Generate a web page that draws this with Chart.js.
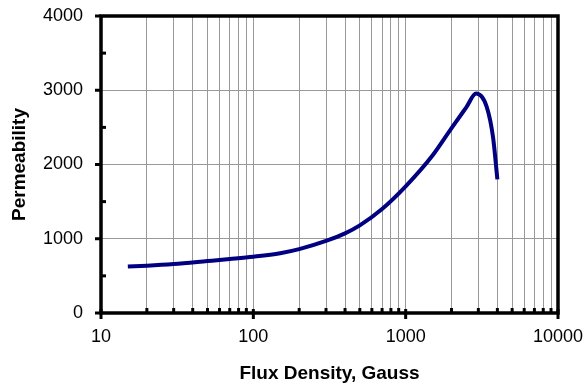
<!DOCTYPE html>
<html>
<head>
<meta charset="utf-8">
<script src="https://cdn.jsdelivr.net/npm/chart.js@4/dist/chart.umd.min.js"></script>
<style>
  html, body { margin: 0; padding: 0; background: #fff; }
  #wrap { width: 585px; height: 387px; position: relative; }
</style>
</head>
<body>
<div id="wrap"><canvas id="c"></canvas></div>
<script>
// ---- data ----
const fluxDensity = [15, 20, 30, 50, 70, 100, 150, 200, 300, 400, 500, 700, 1000, 1500, 2000, 2500, 2900, 3400, 3750, 4000];
const permeability = [625, 637, 660, 700, 727, 758, 805, 860, 970, 1073, 1180, 1400, 1705, 2120, 2490, 2770, 2955, 2780, 2360, 1800];

// ---- axis ticks ----
const xMajorTicks = [10, 100, 1000, 10000];
const xMinorTicks = [20, 30, 40, 50, 60, 70, 80, 90, 200, 300, 400, 500, 600, 700, 800, 900, 2000, 3000, 4000, 5000, 6000, 7000, 8000, 9000];
const yMajorTicks = [0, 1000, 2000, 3000, 4000];
const yMinorTicks = [500, 1500, 2500, 3500];
const xTitle = 'Flux Density, Gauss';
const yTitle = 'Permeability';

const FONT = "'Liberation Sans', Arial, Helvetica, sans-serif";

const framePlugin = {
  id: 'frame',
  afterDraw(chart) {
    const { ctx, chartArea: { left, right, top, bottom }, scales: { x, y } } = chart;
    ctx.save();
    ctx.strokeStyle = '#000';
    ctx.lineCap = 'butt';
    ctx.lineWidth = 3.5;
    ctx.strokeRect(left, top, right - left, bottom - top);
    ctx.lineWidth = 3;
    const seg = (x1, y1, x2, y2) => { ctx.beginPath(); ctx.moveTo(x1, y1); ctx.lineTo(x2, y2); ctx.stroke(); };
    yMajorTicks.forEach(v => { const py = y.getPixelForValue(v); seg(left - 6, py, left, py); });
    yMinorTicks.forEach(v => { const py = y.getPixelForValue(v); seg(left, py, left + 5, py); });
    xMajorTicks.forEach(v => { const px = x.getPixelForValue(v); seg(px, bottom - 4, px, bottom + 6); });
    xMinorTicks.forEach(v => { const px = x.getPixelForValue(v); seg(px, bottom - 5, px, bottom); });
    ctx.restore();
  }
};

function zeroPad(scale) {
  scale.paddingTop = 0; scale.paddingBottom = 0; scale.paddingLeft = 0; scale.paddingRight = 0;
}

new Chart(document.getElementById('c'), {
  type: 'line',
  data: {
    datasets: [{
      data: fluxDensity.map((v, i) => ({ x: v, y: permeability[i] })),
      borderColor: '#000080',
      borderWidth: 4,
      pointRadius: 0,
      cubicInterpolationMode: 'monotone',
      fill: false
    }]
  },
  options: {
    responsive: true,
    maintainAspectRatio: false,
    animation: false,
    layout: { padding: { left: 0, top: 16, right: 27, bottom: 0 } },
    plugins: { legend: { display: false }, tooltip: { enabled: false } },
    scales: {
      x: {
        type: 'logarithmic',
        position: 'bottom',
        min: 10,
        max: 10000,
        afterBuildTicks(scale) {
          scale.ticks = xMajorTicks.concat(xMinorTicks).sort((a, b) => a - b).map(v => ({ value: v }));
        },
        afterFit(scale) { scale.height = 74; zeroPad(scale); },
        ticks: {
          autoSkip: false,
          maxRotation: 0,
          padding: 13,
          color: '#000',
          font: { family: FONT, size: 18 },
          callback(v) { return xMajorTicks.includes(v) ? String(v) : ''; }
        },
        grid: { color: '#999', lineWidth: 1, drawTicks: false },
        border: { display: false },
        title: {
          display: true,
          text: xTitle,
          color: '#000',
          font: { family: FONT, size: 19, weight: 'bold' },
          padding: { top: 0, bottom: 2 }
        }
      },
      y: {
        type: 'linear',
        min: 0,
        max: 4000,
        afterBuildTicks(scale) { scale.ticks = yMajorTicks.map(v => ({ value: v })); },
        afterFit(scale) { scale.width = 101; zeroPad(scale); },
        ticks: {
          padding: 18,
          color: '#000',
          font: { family: FONT, size: 18 },
          callback(v) { return String(v); }
        },
        grid: { color: '#999', lineWidth: 1, drawTicks: false },
        border: { display: false },
        title: {
          display: true,
          text: yTitle,
          color: '#000',
          font: { family: FONT, size: 19, weight: 'bold' },
          padding: { top: 8, bottom: 0 }
        }
      }
    }
  },
  plugins: [framePlugin]
});
</script>
</body>
</html>
